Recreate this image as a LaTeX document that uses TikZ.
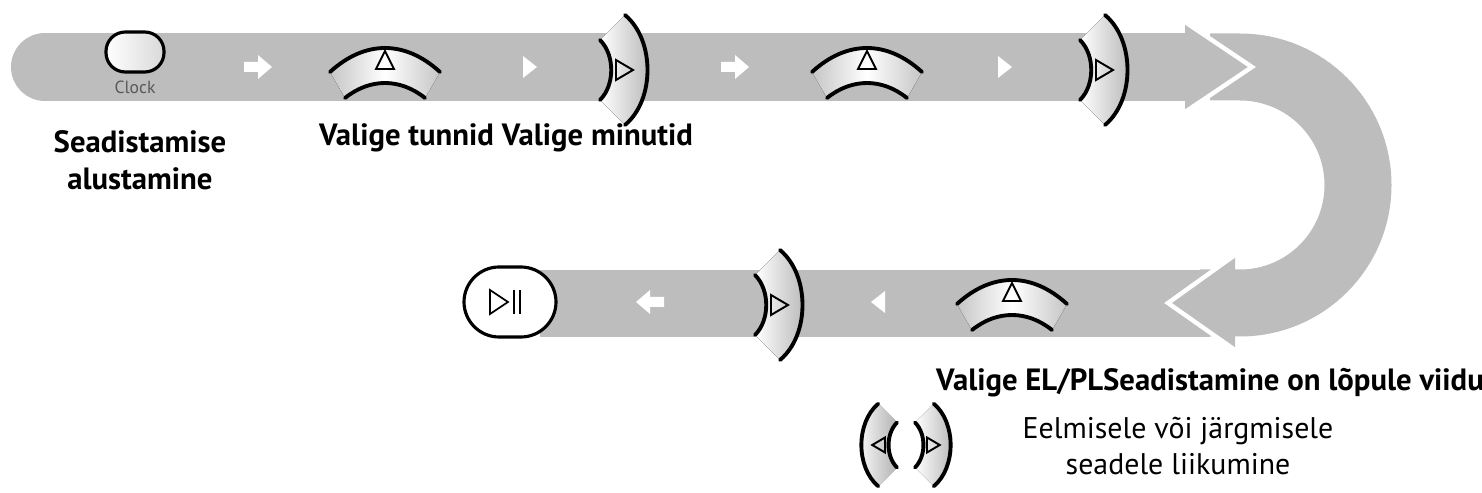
\documentclass[tikz,border=0pt]{standalone}
\usepackage{fontspec}
\setmainfont{PT Sans}
\definecolor{band}{HTML}{BDBDBD}
\tikzset{
  label/.style={font=\fontsize{17.5}{21}\selectfont\bfseries, align=center},
  hint/.style={font=\fontsize{17}{20}\selectfont, align=center},
  keyfill/.style={left color=white, right color=gray!60, draw=none},
  keyline/.style={line width=2.2pt, line cap=round},
  pics/upkey/.style={code={
    \fill[keyfill, left color=gray!45, right color=gray!45, middle color=white]
      (-55,2) .. controls (-20,-30) and (20,-30) .. (55,2)
      -- (40,28) .. controls (15,8) and (-15,8) .. (-40,28) -- cycle;
    \draw[keyline] (-55,2) .. controls (-20,-30) and (20,-30) .. (55,2);
    \draw[keyline] (-40,28) .. controls (-15,8) and (15,8) .. (40,28);
    \draw[line width=1.1pt] (-9,-1) -- (9,-1) -- (0,-19) -- cycle;
  }},
  pics/rightkey/.style={code={
    \fill[keyfill]
      (5,-55) .. controls (35,-30) and (35,30) .. (5,55)
      -- (-20,30) .. controls (-5,15) and (-5,-15) .. (-20,-30) -- cycle;
    \draw[keyline] (5,-55) .. controls (35,-30) and (35,30) .. (5,55);
    \draw[keyline] (-20,-30) .. controls (-5,-15) and (-5,15) .. (-20,30);
    \draw[line width=1.1pt] (-4,-10) -- (-4,10) -- (13,0) -- cycle;
  }},
  pics/blockarrow/.style={code={
    \fill[white] (-14,-5) -- (0,-5) -- (0,-12) -- (14,0) -- (0,12) -- (0,5) -- (-14,5) -- cycle;
  }},
  pics/tip/.style={code={
    \fill[white] (-7,-11) -- (7,0) -- (-7,11) -- cycle;
  }}
}
\begin{document}
\begin{tikzpicture}[x=0.02cm, y=-0.02cm]
\useasboundingbox (0,0) rectangle (1482,493);
\clip (0,0) rectangle (1482,493);
% the band
\draw[band, line width=67*0.02cm] (1210,67) -- (1240,67)
    arc[start angle=-90, end angle=90, radius=118] -- (1200,303);
\fill[band] (540,270) rectangle (1210,337);
\fill[band] (45,33) rectangle (1190,101);
\fill[band] (45,67) circle[radius=34];
\fill[band] (1185,22) -- (1252,67) -- (1185,112) -- cycle;
\draw[white, line width=2.5pt] (1185,22) -- (1252,67) -- (1185,112);
\fill[band] (1235,255) -- (1168,303) -- (1235,350) -- cycle;
\draw[white, line width=2.5pt] (1235,255) -- (1168,303) -- (1235,350);
% buttons
\node[draw, line width=1.8pt, rounded corners=11pt, minimum width=58*0.02cm,
  minimum height=40*0.02cm, left color=white, right color=gray!30] (clock) at (135,52) {};
\node[text=gray!70!black, font=\fontsize{10}{11}\selectfont] (clocktxt) at (135,87) {Clock};
\node[draw, line width=1.8pt, rounded corners=20pt, minimum width=92*0.02cm,
  minimum height=70*0.02cm, fill=white] (play) at (510,302) {};
\draw[line width=1pt] (490,290) -- (490,314) -- (508,302) -- cycle;
\draw[line width=1pt] (514,290) -- (514,314) (520,290) -- (520,314);
% keys and marks, top row
\pic at (258,67) {blockarrow};
\pic at (385,70) {upkey};
\pic at (530,67) {tip};
\pic at (620,70) {rightkey};
\pic at (735,67) {blockarrow};
\pic at (867,70) {upkey};
\pic at (1005,67) {tip};
\pic at (1100,70) {rightkey};
% bottom row
\pic at (1012,302) {upkey};
\pic[xscale=-1] at (878,302) {tip};
\pic at (775,305) {rightkey};
\pic[xscale=-1] at (650,302) {blockarrow};
% legend keys
\pic[xscale=-0.75, yscale=0.75] at (882,445) {rightkey};
\pic[scale=0.75] at (930,445) {rightkey};
% texts
\node[label] (start) at (140,160) {Seadistamise\\alustamine};
\node[label, anchor=west] (hours) at (313,138) {Valige tunnid Valige minutid};
\node[label, anchor=west] (elpl) at (930,383) {Valige EL/PLSeadistamine on lõpule viidu};
\node[hint] (move) at (1178,446) {Eelmisele või järgmisele\\seadele liikumine};
\end{tikzpicture}
\end{document}
